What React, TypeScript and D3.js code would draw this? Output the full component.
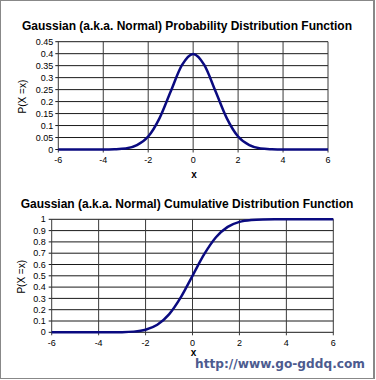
import React from "react";
import * as d3 from "d3";

const xValues = [-6, -5.5, -5, -4.5, -4, -3.5, -3, -2.5, -2, -1.5, -1, -0.5, 0, 0.5, 1, 1.5, 2, 2.5, 3, 3.5, 4, 4.5, 5, 5.5, 6];
const pdfValues = [0, 0, 0, 0, 0, 0.001, 0.004, 0.018, 0.054, 0.13, 0.242, 0.352, 0.399, 0.352, 0.242, 0.13, 0.054, 0.018, 0.004, 0.001, 0, 0, 0, 0, 0];
const cdfValues = [0, 0, 0, 0, 0, 0, 0.001, 0.006, 0.023, 0.067, 0.159, 0.309, 0.5, 0.691, 0.841, 0.933, 0.977, 0.994, 0.999, 1, 1, 1, 1, 1, 1];
const xTicks = [-6, -4, -2, 0, 2, 4, 6];
const pdfTicks = [0, 0.05, 0.1, 0.15, 0.2, 0.25, 0.3, 0.35, 0.4, 0.45];
const cdfTicks = [0, 0.1, 0.2, 0.3, 0.4, 0.5, 0.6, 0.7, 0.8, 0.9, 1];
const pdfTitle = "Gaussian (a.k.a. Normal) Probability Distribution Function";
const cdfTitle = "Gaussian (a.k.a. Normal) Cumulative Distribution Function";
const yTitle = "P(X =x)";
const xTitle = "x";
const watermark = "http://www.go-gddq.com";

const FONT = "'Liberation Sans', Arial, sans-serif";

type PanelProps = {
  title: string;
  titleY: number;
  left: number;
  right: number;
  top: number;
  bottom: number;
  yTicks: number[];
  values: number[];
  yLabelGap: number;
  yTitleX: number;
  xLabelY: number;
  xTitleY: number;
};

function Panel(p: PanelProps) {
  const x = d3.scaleLinear().domain([-6, 6]).range([p.left, p.right]);
  const y = d3
    .scaleLinear()
    .domain([0, p.yTicks[p.yTicks.length - 1]])
    .range([p.bottom, p.top]);
  const line = d3
    .line<number>()
    .x((_, i) => x(xValues[i]))
    .y((d) => y(d))
    .curve(d3.curveMonotoneX);
  const fmt = (v: number) => String(+v.toFixed(2));
  return (
    <g>
      <text x={187} y={p.titleY} textAnchor="middle" fontFamily={FONT} fontWeight="bold" fontSize={12} fill="#000">
        {p.title}
      </text>
      {p.yTicks.map((t) => (
        <line key={"h" + t} x1={p.left - 3} x2={p.right} y1={y(t)} y2={y(t)} stroke="#1a1a1a" strokeWidth={1} />
      ))}
      {xTicks.map((t) => (
        <line key={"v" + t} x1={x(t)} x2={x(t)} y1={p.top} y2={p.bottom + 3} stroke="#3a3a3a" strokeWidth={1} />
      ))}
      {p.yTicks.map((t) => (
        <text key={"yl" + t} x={p.left - p.yLabelGap} y={y(t)} dy="0.35em" textAnchor="end" fontFamily={FONT} fontSize={9} fill="#000">
          {fmt(t)}
        </text>
      ))}
      {xTicks.map((t) => (
        <text key={"xl" + t} x={x(t)} y={p.xLabelY} textAnchor="middle" fontFamily={FONT} fontSize={9} fill="#000">
          {String(t)}
        </text>
      ))}
      <text x={x(0) + 1} y={p.xTitleY} textAnchor="middle" fontFamily={FONT} fontWeight="bold" fontSize={10} fill="#000">
        {xTitle}
      </text>
      <text
        transform={`translate(${p.yTitleX},${(p.top + p.bottom) / 2 + 1}) rotate(-90)`}
        dy="0.35em"
        textAnchor="middle"
        fontFamily={FONT}
        fontSize={10}
        fill="#000"
      >
        {yTitle}
      </text>
      <path d={line(p.values) || ""} fill="none" stroke="#0a0a80" strokeWidth={2.5} strokeLinejoin="round" />
    </g>
  );
}

export default function App() {
  return (
    <svg width={376} height={380} style={{ position: "absolute", left: 0, top: 0, background: "#fff" }}>
      <rect x={0} y={0} width={376} height={380} fill="#fff" />
      <line x1={0.5} x2={0.5} y1={0} y2={379} stroke="#888" strokeWidth={1} />
      <line x1={0} x2={375} y1={0.5} y2={0.5} stroke="#888" strokeWidth={1} />
      <line x1={0} x2={375} y1={378.5} y2={378.5} stroke="#888" strokeWidth={1} />
      <line x1={374} x2={374} y1={0} y2={379} stroke="#888" strokeWidth={2} />
      <Panel
        title={pdfTitle}
        titleY={30}
        left={58.3}
        right={328}
        top={41.7}
        bottom={149.5}
        yTicks={pdfTicks}
        values={pdfValues}
        yLabelGap={5}
        yTitleX={22.7}
        xLabelY={162.5}
        xTitleY={177.5}
      />
      <Panel
        title={cdfTitle}
        titleY={207.5}
        left={51.7}
        right={333.3}
        top={219.3}
        bottom={332.3}
        yTicks={cdfTicks}
        values={cdfValues}
        yLabelGap={6}
        yTitleX={21.7}
        xLabelY={346}
        xTitleY={356}
      />
      <text
        x={195}
        y={367.5}
        textLength={170}
        lengthAdjust="spacingAndGlyphs"
        fontFamily="'DejaVu Sans', Verdana, sans-serif"
        fontWeight="bold"
        fontSize={12.5}
        fill="#4d5b8f"
        stroke="#fff"
        strokeWidth={0}
      >
        {watermark}
      </text>
    </svg>
  );
}
